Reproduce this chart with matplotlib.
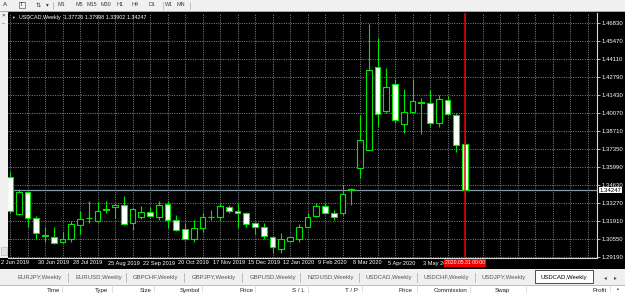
import matplotlib
matplotlib.use("Agg")
import matplotlib.pyplot as plt
import matplotlib.transforms as mtrans
from matplotlib.patches import Rectangle
import numpy as np

plt.rcParams['font.family'] = ['Liberation Sans', 'DejaVu Sans']

# ---------------- data ----------------
symbol = "USDCAD,Weekly"
opens = [1.3524, 1.3240, 1.3406, 1.3212, 1.3082, 1.3068, 1.3030, 1.3053, 1.3161, 1.3210,
         1.3194, 1.3270, 1.3295, 1.3313, 1.3174, 1.3219, 1.3257, 1.3224, 1.3320, 1.3199,
         1.3129, 1.3053, 1.3136, 1.3219, 1.3219, 1.3295, 1.3269, 1.3250, 1.3174, 1.3144,
         1.3073, 1.2982, 1.3042, 1.3053, 1.3148, 1.3231, 1.3305, 1.3250, 1.3250, 1.3431,
         1.3590, 1.3729, 1.4354, 1.4019, 1.4226, 1.3923, 1.4014, 1.4086, 1.4082, 1.3931,
         1.4101, 1.3988, 1.37726]
highs = [1.3560, 1.3430, 1.3418, 1.3225, 1.3148, 1.3144, 1.3108, 1.3194, 1.3269, 1.3345,
         1.3337, 1.3345, 1.3320, 1.3381, 1.3290, 1.3305, 1.3300, 1.3345, 1.3345, 1.3237,
         1.3174, 1.3199, 1.3250, 1.3275, 1.3325, 1.3313, 1.3325, 1.3262, 1.3186, 1.3174,
         1.3078, 1.3103, 1.3073, 1.3166, 1.3250, 1.3325, 1.3325, 1.3275, 1.3464, 1.3439,
         1.3993, 1.4674, 1.4574, 1.4347, 1.4263, 1.4188, 1.4263, 1.4120, 1.4177, 1.4145,
         1.4137, 1.4006, 1.37998]
lows = [1.3252, 1.3235, 1.3148, 1.3053, 1.3035, 1.3017, 1.3023, 1.3035, 1.3093, 1.3174,
        1.3186, 1.3250, 1.3212, 1.3161, 1.3123, 1.3204, 1.3224, 1.3199, 1.3136, 1.3116,
        1.3048, 1.3035, 1.3110, 1.3199, 1.3199, 1.3254, 1.3136, 1.3148, 1.3093, 1.3053,
        1.2947, 1.2947, 1.3035, 1.3035, 1.3144, 1.3224, 1.3244, 1.3199, 1.3237, 1.3312,
        1.3514, 1.3725, 1.3910, 1.4005, 1.3931, 1.3855, 1.4006, 1.3850, 1.3905, 1.3900,
        1.3993, 1.3708, 1.33902]
closes = [1.3267, 1.3413, 1.3216, 1.3098, 1.3076, 1.3027, 1.3053, 1.3169, 1.3204, 1.3214,
          1.3269, 1.3280, 1.3315, 1.3166, 1.3280, 1.3262, 1.3231, 1.3312, 1.3199, 1.3123,
          1.3053, 1.3136, 1.3224, 1.3222, 1.3305, 1.3269, 1.3254, 1.3169, 1.3148, 1.3078,
          1.2997, 1.3053, 1.3068, 1.3144, 1.3224, 1.3305, 1.3250, 1.3219, 1.3396, 1.3421,
          1.3804, 1.4334, 1.4001, 1.4203, 1.3956, 1.4011, 1.4099, 1.4083, 1.3931, 1.4112,
          1.4001, 1.3761, 1.34247]

time_labels = ["2 Jun 2019", "30 Jun 2019", "28 Jul 2019", "25 Aug 2019", "22 Sep 2019",
               "20 Oct 2019", "17 Nov 2019", "15 Dec 2019", "12 Jan 2020", "9 Feb 2020",
               "8 Mar 2020", "5 Apr 2020", "3 May 2020"]
time_label_bars = [0, 4, 8, 12, 16, 20, 24, 28, 32, 36, 40, 44, 48]
price_labels = ["1.29190", "1.30550", "1.31910", "1.33270", "1.34630", "1.35990", "1.37350",
                "1.38710", "1.40070", "1.41430", "1.42790", "1.44110", "1.45470", "1.46830"]
marker_label = "2020.05.31 00:00"
marker_bar = 52
tabs = ["EURJPY,Weekly", "EURUSD,Weekly", "GBPCHF,Weekly", "GBPJPY,Weekly", "GBPUSD,Weekly",
        "NZDUSD,Weekly", "USDCAD,Weekly", "USDCHF,Weekly", "USDJPY,Weekly", "USDCAD,Weekly"]
active_tab = 9
timeframes = ["M1", "M5", "M15", "M30", "H1", "H4", "D1", "W1", "MN"]
columns = ["Time", "Type", "Size", "Symbol", "Price", "S / L", "T / P", "Price",
           "Commission", "Swap", "Profit"]

# ---------------- layout (pixels) ----------------
W, H, DPI = 625, 293, 100
CH_X0, CH_X1, CH_Y0, CH_Y1 = 8, 597, 13, 258
BAR0_PX, BAR_PX = 10.0, 8.75
TICK_LO_PX, TICK_HI_PX = 257.0, 23.3
GREEN = '#00e600'
GRID = '#8e98a4'

fig = plt.figure(figsize=(W / DPI, H / DPI), dpi=DPI, facecolor='#f0f0f0')


def px_axes(x0, y0, x1, y1, z):
    return fig.add_axes([x0 / W, 1 - y1 / H, (x1 - x0) / W, (y1 - y0) / H], zorder=z)


def px_off(dx, dy):
    return mtrans.ScaledTranslation(dx / DPI, -dy / DPI, fig.dpi_scale_trans)


# background UI layer (pixel coordinates)
ui = fig.add_axes([0, 0, 1, 1], zorder=0)
ui.set_xlim(0, W)
ui.set_ylim(H, 0)
ui.axis('off')

# toolbar
ui.add_patch(Rectangle((0, 0), W, 11, facecolor='#f0f0f0', edgecolor='none'))
ui.plot([0, W], [11.2, 11.2], color='#9a9a9a', lw=0.6)
ui.text(5, 5, "A", fontsize=4.6, color='#303030', ha='center', va='center')
ui.add_patch(Rectangle((19, 1.8), 6, 6, facecolor='none', edgecolor='#606060', lw=0.5))
ui.text(22, 5, "T", fontsize=4, color='#303030', ha='center', va='center')
ui.text(38, 5, "⇅", fontsize=4.5, color='#404040', ha='center', va='center')
ui.text(47, 5, "▾", fontsize=4, color='#404040', ha='center', va='center')
tf_x = [61, 79, 92, 106, 120, 135, 152, 169, 181]
for t, x in zip(timeframes, tf_x):
    ui.text(x, 5, t, fontsize=3.9, color='#404040', ha='center', va='center')
for x in [53, 163, 190]:
    ui.plot([x, x], [1.5, 9], color='#b0b0b0', lw=0.5)

# chart window black
ui.add_patch(Rectangle((0, 12), W, 257, facecolor='black', edgecolor='none'))
# left panel strip
ui.add_patch(Rectangle((0, 12), 8.3, CH_Y1 - 12, facecolor='#f0f0f0', edgecolor='none'))
ui.plot([8.3, 8.3], [12, CH_Y1], color='#7a7a7a', lw=0.5)
ui.text(3.5, 15.5, "×", fontsize=4.5, color='#202020', ha='center', va='center')
ui.text(3.5, 24, "–", fontsize=4, color='#404040', ha='center', va='center')
ui.add_patch(Rectangle((0.5, 247), 6.5, 8, facecolor='#e2e2e2', edgecolor='#b0b0b0', lw=0.4))

# tabs row
tab_step = 58.1
for i, t in enumerate(tabs):
    x = 17 + tab_step * i
    if i == active_tab:
        ui.add_patch(Rectangle((x - 5, 270.3), 58, 13, facecolor='white', edgecolor='#303030', lw=0.6))
        ui.text(x + 23.5, 277.3, t, fontsize=4.3, color='#000000', ha='center', va='center')
    else:
        ui.text(x, 277.3, t, fontsize=4.3, color='#555555', ha='left', va='center')
        if i < active_tab - 1:
            ui.plot([x + 51, x + 51], [273, 282], color='#a8a8a8', lw=0.5)
ui.text(605, 277.3, "◂", fontsize=4, color='#404040', ha='center', va='center')
ui.text(615, 277.3, "▸", fontsize=4, color='#404040', ha='center', va='center')

# table header
ui.add_patch(Rectangle((0, 285), W, 9, facecolor='white', edgecolor='none'))
ui.plot([0, W], [284.6, 284.6], color='#a0a0a0', lw=0.5)
col_right = [60, 108, 152, 200, 253, 305, 358, 412, 468, 510, 607]
col_sep = [62, 112, 154, 202, 255, 308, 362, 417, 470, 526, 610]
for c, xr in zip(columns, col_right):
    ui.text(xr, 287.6, c, fontsize=4.4, color='#202020', ha='right', va='top')
for xs in col_sep:
    ui.plot([xs, xs], [285, 293], color='#d0d0d0', lw=0.5)
ui.text(617, 289.5, "▲", fontsize=2.8, color='#505050', ha='center', va='center')

# ---------------- chart axes ----------------
ax = px_axes(CH_X0, CH_Y0, CH_X1, CH_Y1, 1)
ax.set_facecolor('black')
n = len(opens)
x = np.arange(n)
o = np.array(opens); h = np.array(highs); l = np.array(lows); c = np.array(closes)

tick_vals = np.linspace(float(price_labels[0]), float(price_labels[-1]), len(price_labels))
scale = (TICK_LO_PX - TICK_HI_PX) / (tick_vals[-1] - tick_vals[0])
ax.set_ylim(tick_vals[0] - (CH_Y1 - TICK_LO_PX) / scale, tick_vals[0] + (TICK_LO_PX - CH_Y0) / scale)
x_lo = (CH_X0 - BAR0_PX) / BAR_PX
x_hi = (CH_X1 - BAR0_PX) / BAR_PX
ax.set_xlim(x_lo, x_hi)

ax.set_xticks(np.arange(0, x_hi, 2))
ax.set_xticklabels([])
ax.tick_params(axis='x', length=0)
ax.yaxis.tick_right()
ax.set_yticks(tick_vals)
ax.set_yticklabels(price_labels)
ax.tick_params(axis='y', colors='white', labelsize=4.3, length=2, width=0.5, pad=1)
ax.grid(True, color=GRID, linestyle=(0, (1.2, 1.6)), lw=0.6, zorder=0)
ax.set_axisbelow(True)
for s in ['left', 'top']:
    ax.spines[s].set_visible(False)
for s in ['right', 'bottom']:
    ax.spines[s].set_color('#d8d8d8')
    ax.spines[s].set_linewidth(0.8)

# candles
ax.vlines(x, l, h, color=GREEN, lw=0.8, zorder=2)
up = c >= o
bw = 0.66
ax.bar(x[up], np.abs(c - o)[up], bottom=np.minimum(o, c)[up], width=bw,
       facecolor='black', edgecolor=GREEN, lw=0.8, zorder=3)
ax.bar(x[~up], np.abs(c - o)[~up], bottom=np.minimum(o, c)[~up], width=bw,
       facecolor='white', edgecolor=GREEN, lw=0.8, zorder=3)

# bid line
ax.axhline(closes[-1], color='#8a98a8', lw=0.9, zorder=1.5)
# vertical marker line
ax.axvline(marker_bar, color='#e80000', lw=1.1, zorder=4)

bl_x = mtrans.blended_transform_factory(ax.transData, ax.transAxes)
bl_y = mtrans.blended_transform_factory(ax.transAxes, ax.transData)

# bid price label box
ax.text(1.0, closes[-1], f"{closes[-1]:.5f}", transform=bl_y + px_off(2.5, 0),
        ha='left', va='center', fontsize=4.3, color='black', clip_on=False, zorder=10,
        bbox=dict(facecolor='white', edgecolor='none', pad=0.4))

# time labels
for i, (lab, b) in enumerate(zip(time_labels, time_label_bars)):
    if i == 0:
        ax.text(0, 0, lab, transform=ax.transAxes + px_off(-7, 5.0), ha='left', va='center',
                fontsize=4.1, color='white', clip_on=False)
    else:
        ax.text(b, 0, lab, transform=bl_x + px_off(-7, 5.0), ha='left', va='center',
                fontsize=4.1, color='white', clip_on=False)

# marker label (drawn over the last time label, as in the terminal)
ax.text(marker_bar, 0, marker_label, transform=bl_x + px_off(0, 5.0), ha='center', va='center',
        fontsize=3.7, color='white', clip_on=False, zorder=11,
        bbox=dict(facecolor='#ee0000', edgecolor='none', pad=0.9))

# legend
ax.text(0, 1, "▼", transform=ax.transAxes + px_off(5, 4.5), ha='center', va='center',
        fontsize=2.6, color='white')
ax.text(0, 1, f"{symbol}  {opens[-1]:.5f} {highs[-1]:.5f} {lows[-1]:.5f} {closes[-1]:.5f}",
        transform=ax.transAxes + px_off(11, 4.5), ha='left', va='center', fontsize=3.9, color='white')

fig.savefig("out.png", dpi=DPI, facecolor=fig.get_facecolor())
